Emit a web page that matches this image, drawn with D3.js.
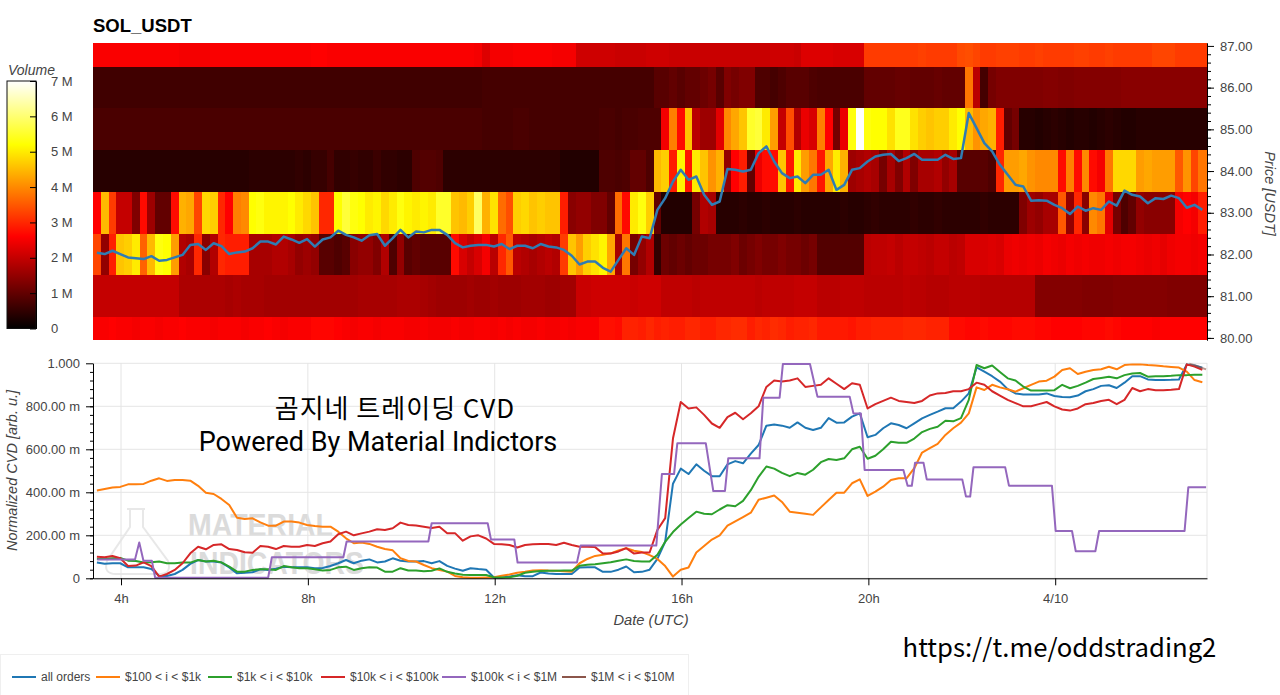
<!DOCTYPE html>
<html>
<head>
<meta charset="utf-8">
<script src="https://cdn.jsdelivr.net/npm/d3@7"></script>
<style>
  body { margin: 0; background: #fff; }
  text { font-family: "Liberation Sans", sans-serif; fill: #444; }
</style>
</head>
<body>
<div id="chart"></div>
<script>
// volume per price bin, in millions, one value per 10 minute column
var heat80 = [
  2.55,2.55,2.6,2.55,2.55,2.5,2.55,2.55,2.5,2.55,
  2.55,2.6,2.55,2.55,2.55,2.5,2.55,2.55,2.55,2.5,
  2.55,2.55,2.6,2.55,2.5,2.55,2.55,2.55,2.65,2.65,
  2.65,2.6,2.55,2.5,2.55,2.55,2.5,2.55,2.55,2.55,
  2.5,2.5,2.55,2.5,2.5,2.5,2.55,2.5,2.5,2.55,
  2.55,2.5,2.55,2.5,2.55,2.5,2.5,2.55,2.5,2.5,
  2.55,2.5,2.55,2.55,2.55,2.75,2.75,2.7,2.95,2.95,
  2.9,3.0,2.9,2.95,2.9,2.9,3.0,3.0,2.9,2.9,
  3.0,3.0,3.05,3.05,2.9,3.0,2.95,3.05,3.0,2.9,
  2.95,2.95,3.0,2.85,2.85,2.85,2.85,2.8,2.9,2.9,
  2.95,2.95,2.95,2.95,3.0,3.0,3.0,2.95,2.95,2.95,
  2.7,2.7,2.65,2.65,2.7,2.65,2.65,2.65,2.7,2.7,
  2.7,2.65,2.65,2.6,2.6,2.6,2.6,2.65,2.65,2.65,
  2.7,2.65,2.6,2.6,2.6,2.6,2.55,2.6,2.6,2.6,
  2.6,2.6,2.6
];
var heat81 = [
  2.0,2.0,2.0,2.0,2.0,2.0,2.0,2.0,2.0,2.0,
  2.0,1.75,1.75,1.75,1.75,1.75,1.75,1.7,1.75,1.7,
  1.7,1.7,1.65,1.65,1.65,1.65,1.65,1.65,1.65,1.65,
  1.65,1.65,1.65,1.65,1.7,1.7,1.7,1.7,1.7,1.75,
  1.75,1.75,1.7,1.65,1.6,1.6,1.6,1.6,1.65,1.6,
  1.6,1.65,1.6,1.6,1.6,1.65,1.65,1.65,1.6,1.6,
  1.65,1.65,2.05,2.05,2.1,2.1,2.1,2.1,2.1,2.05,
  2.1,2.1,2.1,1.95,1.95,1.95,1.95,1.9,1.95,1.95,
  1.95,1.95,1.95,1.95,1.95,1.9,1.95,1.95,1.95,1.95,
  2.0,2.0,2.0,1.9,1.9,1.9,1.95,1.95,1.95,1.9,
  1.9,1.9,1.9,1.9,1.95,1.9,1.9,1.85,1.85,1.85,
  1.9,1.9,1.9,1.9,1.85,1.85,1.85,1.85,1.85,1.85,
  1.85,1.35,1.35,1.35,1.35,1.35,1.35,1.3,1.3,1.3,
  1.3,1.35,1.35,1.35,1.35,1.35,1.35,1.35,1.3,1.3,
  1.3,1.3,1.3
];
var heat82 = [
  3.3,1.5,2.9,4.6,4.7,5.0,3.6,4.5,5.3,5.2,
  4.2,1.8,1.7,3.0,1.4,1.8,3.0,2.9,2.9,2.9,
  1.7,1.7,1.7,1.8,1.8,1.7,1.5,1.6,1.5,0.9,
  0.9,0.8,0.9,1.4,1.5,1.5,1.3,1.8,0.8,1.5,
  0.9,1.0,0.9,0.9,0.9,0.9,2.7,2.2,2.0,2.2,
  2.5,1.9,3.0,3.5,1.9,1.8,1.7,1.8,1.9,1.8,
  3.2,4.6,4.2,4.7,4.9,5.1,4.3,1.7,3.8,1.2,
  1.5,1.8,0.5,1.1,1.0,1.1,1.0,1.1,1.1,1.2,
  1.2,1.2,1.3,1.1,1.2,1.3,1.2,1.2,1.3,1.2,
  1.2,1.1,1.2,0.85,0.85,0.85,0.85,0.85,0.85,1.9,
  1.95,1.95,2.0,1.9,2.0,2.0,1.95,1.9,2.0,2.0,
  1.9,1.95,2.2,2.2,2.2,2.25,2.2,2.4,2.45,2.4,
  2.45,2.4,2.5,2.45,2.4,2.5,2.45,2.5,2.45,2.45,
  2.5,2.45,2.5,2.5,2.45,2.4,2.45,2.35,2.45,2.5,
  2.5,2.45,2.5
];
var heat83 = [
  2.6,4.5,3.2,2.0,2.0,1.3,2.7,1.6,1.0,1.0,
  2.7,4.4,4.3,3.3,4.8,4.7,3.0,2.6,3.9,4.0,
  5.2,5.3,5.1,5.1,5.1,5.2,5.0,4.8,4.6,3.0,
  3.0,5.2,5.6,5.3,5.2,5.0,5.1,4.8,5.0,5.3,
  5.1,5.0,5.1,5.0,5.5,5.5,4.6,4.5,4.7,5.9,
  4.4,4.9,3.7,3.4,4.7,4.8,4.6,4.7,4.6,4.6,
  2.9,1.4,1.5,1.5,1.3,1.3,1.0,3.7,2.7,5.0,
  5.3,4.7,1.0,0.35,0.35,0.35,0.35,1.2,1.8,1.7,
  0.4,0.4,0.4,0.45,0.4,0.4,0.45,0.4,0.4,0.4,
  0.45,0.4,0.4,0.4,0.4,0.4,0.45,0.4,0.4,0.45,
  0.5,0.45,0.45,0.45,0.45,0.5,0.45,0.45,0.5,0.45,
  0.45,0.45,0.45,0.45,0.5,0.45,0.45,0.45,0.45,1.3,
  1.6,1.5,1.7,1.7,3.5,1.5,3.0,1.4,4.0,3.8,
  2.3,1.2,0.8,1.0,1.5,1.4,1.4,1.4,1.4,2.5,
  2.6,2.5,2.9
];
var heat84 = [
  0.4,0.4,0.4,0.4,0.4,0.4,0.4,0.4,0.4,0.4,
  0.4,0.4,0.4,0.4,0.4,0.4,0.4,0.4,0.4,0.4,
  0.45,0.45,0.45,0.45,0.45,0.45,0.5,0.45,0.55,0.55,
  0.7,0.5,0.5,0.55,0.5,0.5,0.6,0.5,0.5,0.45,
  0.45,0.8,0.85,0.85,0.8,0.45,0.45,0.45,0.45,0.45,
  0.45,0.45,0.45,0.45,0.45,0.45,0.45,0.45,0.45,0.45,
  0.35,0.35,0.35,0.35,0.35,0.8,0.8,0.75,0.8,1.0,
  1.0,0.8,4.5,4.7,2.9,5.1,2.8,5.0,4.6,4.1,
  4.4,1.5,2.6,2.9,1.0,2.4,2.7,2.7,4.6,2.8,
  5.0,4.2,3.8,2.8,4.3,5.0,4.4,1.6,1.7,1.8,
  1.7,1.2,1.7,1.3,1.8,1.3,1.7,1.7,1.8,1.5,
  1.7,0.9,0.9,0.9,0.9,0.8,3.0,4.2,4.2,4.3,
  4.1,4.0,4.0,4.0,2.7,3.9,2.7,4.0,2.7,2.5,
  3.8,4.8,4.8,4.8,4.2,4.3,4.2,4.2,4.2,3.5,
  4.1,3.3,3.8
];
var heat85 = [
  0.75,0.75,0.75,0.75,0.75,0.75,0.75,0.75,0.75,0.75,
  0.75,0.75,0.75,0.75,0.75,0.75,0.75,0.75,0.75,0.75,
  0.75,0.75,0.75,0.75,0.75,0.75,0.75,0.75,0.75,0.75,
  0.75,0.75,0.75,0.75,0.75,0.75,0.75,0.75,0.75,0.75,
  0.75,0.75,0.75,0.75,0.75,0.75,0.75,0.75,0.75,0.75,
  0.7,0.7,0.7,0.7,0.75,0.75,0.7,0.7,0.7,0.7,
  0.7,0.7,0.7,0.7,0.7,0.75,0.75,0.7,0.75,0.75,
  0.8,0.8,0.8,2.5,3.9,2.7,4.6,1.9,1.6,1.6,
  2.3,4.0,4.3,4.6,5.5,5.6,5.0,4.2,2.0,3.4,
  1.8,2.4,2.2,3.9,2.6,1.2,2.4,5.3,7.0,5.3,
  5.2,5.2,4.9,5.4,5.4,4.9,4.7,4.6,4.7,4.7,
  5.0,5.2,4.5,4.1,4.3,4.4,2.9,1.0,1.2,0.4,
  0.4,0.35,0.4,0.45,0.4,0.35,0.4,0.4,0.35,0.4,
  0.45,0.4,0.35,0.35,0.4,0.4,0.4,0.4,0.4,0.4,
  0.4,0.4,0.4
];
var heat86 = [
  0.65,0.65,0.65,0.65,0.65,0.65,0.65,0.65,0.65,0.65,
  0.65,0.65,0.65,0.65,0.65,0.65,0.65,0.65,0.65,0.65,
  0.65,0.65,0.65,0.65,0.65,0.65,0.65,0.65,0.65,0.65,
  0.65,0.65,0.65,0.65,0.65,0.65,0.65,0.65,0.65,0.65,
  0.65,0.65,0.65,0.65,0.65,0.65,0.65,0.65,0.65,0.65,
  0.7,0.7,0.7,0.7,0.7,0.7,0.7,0.7,0.7,0.7,
  0.7,0.7,0.7,0.7,0.7,0.7,0.7,0.7,0.7,0.7,
  0.7,0.7,0.9,0.9,1.0,0.9,1.0,1.0,1.1,1.2,
  0.9,1.3,1.2,1.3,1.3,0.8,0.8,0.7,0.8,0.9,
  0.9,0.9,0.8,0.75,0.75,0.75,0.75,0.75,0.75,1.0,
  1.0,1.0,1.0,1.05,1.05,1.0,1.0,1.0,1.05,1.0,
  1.0,1.0,3.8,1.9,0.7,1.2,1.3,1.3,1.3,1.3,
  1.3,1.3,1.35,1.35,1.3,1.3,1.35,1.35,1.35,1.35,
  1.35,1.35,1.4,1.4,1.4,1.4,1.4,1.4,1.4,1.4,
  1.4,1.4,1.4
];
var heat87 = [
  2.55,2.55,2.55,2.55,2.55,2.55,2.55,2.55,2.55,2.55,
  2.55,2.5,2.5,2.5,2.5,2.55,2.55,2.55,2.55,2.55,
  2.55,2.55,2.55,2.55,2.55,2.55,2.55,2.55,2.6,2.6,
  2.55,2.55,2.55,2.55,2.55,2.55,2.55,2.55,2.55,2.55,
  2.55,2.55,2.55,2.55,2.55,2.55,2.55,2.55,2.55,2.5,
  2.25,2.5,2.5,2.5,2.55,2.55,2.55,2.55,2.55,2.5,
  2.5,2.5,2.1,2.1,2.1,2.1,2.1,2.05,2.05,2.05,
  2.05,2.1,2.1,2.1,2.05,2.05,2.05,2.05,2.05,2.05,
  2.05,2.05,2.05,2.05,2.05,2.05,2.05,2.1,2.1,2.1,
  2.05,2.25,2.25,2.25,2.25,2.2,2.2,2.2,2.2,3.2,
  3.2,3.2,3.2,3.2,3.2,3.2,3.25,3.2,3.2,3.2,
  3.2,3.35,3.4,3.3,3.2,3.2,3.25,3.25,3.25,3.2,
  3.2,3.25,3.2,3.2,3.2,3.2,3.25,3.25,3.2,3.2,
  3.25,3.2,3.2,3.2,3.2,3.2,3.3,3.3,3.3,3.2,
  3.2,3.2,3.2
];
var priceBins = [80, 81, 82, 83, 84, 85, 86, 87];

// mid price per 10 minute column
var priceLine = [
  82.04,82.01,82.09,82.01,81.93,81.91,81.89,81.96,81.85,81.87,
  81.93,81.99,82.23,82.25,82.11,82.27,82.2,82.01,82.05,82.07,
  82.15,82.31,82.31,82.24,82.43,82.36,82.28,82.37,82.19,82.36,
  82.41,82.57,82.47,82.41,82.33,82.46,82.49,82.21,82.39,82.59,
  82.41,82.55,82.53,82.59,82.59,82.47,82.27,82.17,82.21,82.23,
  82.23,82.19,82.25,82.13,82.21,82.21,82.15,82.25,82.19,82.17,
  82.11,81.97,81.76,81.83,81.83,81.68,81.59,81.87,82.15,81.99,
  82.43,82.39,83.07,83.35,83.75,84.03,83.79,83.87,83.43,83.19,
  83.27,84.05,84.03,83.99,84.03,84.43,84.59,84.23,83.95,83.83,
  83.87,83.71,83.91,83.91,84.03,83.55,83.67,84.03,84.07,84.23,
  84.35,84.39,84.41,84.24,84.31,84.41,84.27,84.27,84.27,84.39,
  84.29,84.31,85.39,85.03,84.67,84.47,84.15,83.91,83.67,83.63,
  83.29,83.3,83.29,83.19,83.11,82.97,83.15,83.05,83.11,83.07,
  83.27,83.17,83.53,83.43,83.39,83.23,83.35,83.33,83.41,83.35,
  83.12,83.19,83.07
];

// normalized cvd per order size, same columns as the price
var cvdAll = [
  .074,.068,.07,.07,.051,.051,.051,.043,.011,.011,
  .02,.039,.067,.085,.078,.078,.073,.051,.023,.026,
  .028,.042,.039,.045,.054,.051,.051,.051,.047,.048,
  .057,.07,.085,.07,.082,.088,.074,.078,.093,.082,
  .078,.078,.08,.07,.08,.058,.045,.035,.047,.043,
  .04,.004,.004,.008,.014,.009,.01,.027,.022,.02,
  .02,.02,.05,.051,.051,.03,.03,.04,.055,.028,
  .03,.04,.09,.17,.44,.51,.485,.53,.5,.475,
  .475,.53,.545,.535,.58,.62,.71,.715,.71,.7,
  .725,.7,.69,.7,.745,.724,.725,.752,.767,.656,
  .667,.698,.721,.713,.698,.721,.744,.76,.775,.791,
  .791,.822,.86,.981,.961,.94,.915,.88,.86,.855,
  .855,.855,.86,.848,.843,.842,.85,.87,.88,.895,
  .898,.885,.91,.94,.94,.925,.922,.922,.923,.925,
  .995,.99,.98
];
var cvd100 = [
  .408,.415,.422,.425,.437,.437,.439,.454,.465,.453,
  .457,.457,.454,.43,.398,.392,.369,.341,.282,.276,
  .279,.26,.245,.245,.264,.264,.259,.248,.243,.24,
  .24,.217,.186,.163,.166,.16,.147,.136,.13,.093,
  .081,.078,.062,.047,.039,.031,.011,.005,.002,.003,
  .004,.005,.012,.018,.026,.03,.036,.038,.036,.035,
  .033,.031,.07,.09,.104,.11,.116,.13,.14,.128,
  .122,.108,.09,.057,.008,.04,.05,.12,.15,.18,
  .2,.245,.265,.285,.305,.365,.375,.385,.355,.31,
  .305,.3,.295,.33,.364,.398,.398,.442,.46,.383,
  .403,.426,.457,.465,.465,.512,.585,.605,.625,.667,
  .698,.724,.767,.888,.876,.9,.888,.879,.868,.884,
  .9,.915,.919,.938,.969,.977,.95,.961,.969,.972,
  .984,.972,.992,.995,.995,.992,.99,.986,.983,.98,
  .961,.922,.912
];
var cvd1k = [
  .09,.09,.093,.095,.082,.08,.073,.075,.078,.07,
  .07,.073,.073,.085,.078,.082,.074,.054,.031,.031,
  .039,.042,.042,.039,.057,.051,.047,.047,.042,.036,
  .039,.051,.054,.039,.047,.051,.05,.031,.031,.047,
  .036,.036,.033,.035,.046,.03,.022,.016,.015,.015,
  .015,.005,.004,.005,.012,.026,.03,.034,.035,.035,
  .036,.036,.058,.063,.065,.07,.075,.082,.088,.08,
  .078,.078,.11,.17,.215,.25,.28,.31,.3,.298,
  .32,.34,.335,.36,.41,.472,.52,.51,.49,.475,
  .49,.482,.505,.54,.555,.55,.558,.6,.612,.556,
  .57,.6,.635,.63,.63,.65,.68,.695,.705,.733,
  .73,.745,.83,.992,.977,.99,.96,.93,.92,.892,
  .873,.873,.873,.875,.9,.884,.895,.91,.927,.932,
  .937,.93,.945,.953,.955,.938,.94,.94,.942,.945,
  .945,.947,.947
];
var cvd10k = [
  .1,.098,.104,.093,.057,.059,.074,.057,.008,.02,
  .039,.07,.116,.147,.135,.155,.158,.136,.132,.121,
  .119,.15,.147,.136,.15,.147,.147,.155,.15,.163,
  .171,.205,.217,.2,.209,.217,.228,.225,.233,.259,
  .248,.246,.24,.234,.24,.21,.21,.175,.195,.2,
  .185,.16,.158,.155,.143,.155,.158,.16,.16,.155,
  .165,.155,.147,.147,.145,.115,.115,.125,.14,.115,
  .12,.12,.225,.28,.65,.82,.79,.795,.76,.72,
  .7,.75,.77,.74,.768,.8,.89,.92,.915,.92,
  .93,.89,.895,.9,.93,.905,.88,.907,.9,.79,
  .81,.825,.84,.825,.82,.815,.825,.85,.86,.862,
  .87,.87,.88,.91,.9,.87,.85,.83,.815,.8,
  .8,.81,.82,.8,.785,.78,.79,.81,.815,.825,
  .83,.81,.83,.885,.87,.88,.875,.875,.877,.88,
  .995,.985,.97
];
// the $100k line moves in steps so it keeps its own times (hours)
var cvd100kTimes = [
  3.49,4.30,4.39,4.48,4.66,4.73,7.15,7.23,8.76,8.83,10.58,10.65,11.85,11.92,
  12.42,12.49,13.76,13.84,15.46,15.58,15.84,15.91,16.52,16.68,16.93,17.0,
  17.67,17.75,18.1,18.17,18.75,18.91,19.6,19.68,19.84,19.92,20.75,20.84,
  20.93,21.0,21.18,21.25,22.01,22.09,22.18,22.25,22.93,23.01,23.93,24.01,
  24.36,24.44,24.86,24.94,26.77,26.85,27.23
];
var cvd100k = [
  .088,.088,.167,.082,.082,.003,.003,.098,.098,.171,.171,.256,.256,.181,
  .181,.073,.073,.152,.152,.485,.485,.628,.628,.406,.406,.558,
  .558,.84,.84,.997,.997,.845,.845,.767,.767,.504,.504,.43,
  .43,.538,.538,.46,.46,.38,.38,.516,.516,.431,.431,.22,
  .22,.126,.126,.22,.22,.423,.423
];
// only seen for a moment at the right edge
var cvd1mTimes = [26.87, 27.0, 27.23];
var cvd1m = [.998, .99, .972];

var seriesNames = ["all orders", "$100 < i < $1k", "$1k < i < $10k", "$10k < i < $100k", "$100k < i < $1M", "$1M < i < $10M"];
var seriesColors = ["#1f77b4", "#ff7f0e", "#2ca02c", "#d62728", "#9467bd", "#8c564b"];

var timeTicks = [4, 8, 12, 16, 20, 24];
var timeLabels = ["4h", "8h", "12h", "16h", "20h", "4/10"];
var priceTicks = [80, 81, 82, 83, 84, 85, 86, 87];
var cvdTicks = [0, .2, .4, .6, .8, 1];
var cvdLabels = ["0", "200.00 m", "400.00 m", "600.00 m", "800.00 m", "1.000"];
var volumeTicks = [0, 1, 2, 3, 4, 5, 6, 7];

var firstHour = 3.4;
var columnHours = 1 / 6;

var svg = d3.select("#chart").append("svg")
  .attr("width", 1280)
  .attr("height", 695)
  .style("display", "block");

// shared time scale
var x = d3.scaleLinear().domain([firstHour, 27.25]).range([93, 1207]);
var yPrice = d3.scaleLinear().domain([79.95, 87.07]).range([340, 43]);
var yCvd = d3.scaleLinear().domain([0, 1]).range([578.3, 363.3]);
var yVolume = d3.scaleLinear().domain([0, 7]).range([328.5, 81]);

// black, red, yellow, white like the hot palette
var hot = d3.scaleLinear()
  .domain([0, 2.6, 5.2, 7])
  .range(["#000000", "#ff0000", "#ffff00", "#ffffff"]);

var defs = svg.append("defs");
defs.append("clipPath").attr("id", "heatClip").append("rect")
  .attr("x", 93).attr("y", 43).attr("width", 1114).attr("height", 297);
defs.append("clipPath").attr("id", "cvdClip").append("rect")
  .attr("x", 93).attr("y", 362).attr("width", 1114).attr("height", 217);

svg.append("text")
  .attr("x", 93).attr("y", 32)
  .style("font-size", "18.5px").style("font-weight", "bold").style("fill", "#000")
  .text("SOL_USDT");

// heatmap
var heatRows = [heat80, heat81, heat82, heat83, heat84, heat85, heat86, heat87];
var heatGroup = svg.append("g").attr("clip-path", "url(#heatClip)");
heatRows.forEach(function(row, r) {
  heatGroup.selectAll(".c" + r)
    .data(row)
    .enter()
    .append("rect")
    .attr("x", (d, i) => x(firstHour + i * columnHours))
    .attr("width", x(firstHour + columnHours) - x(firstHour) + 0.4)
    .attr("y", yPrice(priceBins[r] + 0.5))
    .attr("height", yPrice(priceBins[r] - 0.5) - yPrice(priceBins[r] + 0.5))
    .attr("fill", d => hot(d))
    .attr("shape-rendering", "crispEdges");
});

var columnTime = i => firstHour + (i + 0.5) * columnHours;

heatGroup.append("path")
  .datum(priceLine)
  .attr("fill", "none")
  .attr("stroke", "#2f7cb3")
  .attr("stroke-width", 2.5)
  .attr("stroke-linejoin", "round")
  .attr("d", d3.line().x((d, i) => x(columnTime(i))).y(d => yPrice(d)));

// price axis on the right
svg.append("g")
  .attr("transform", "translate(1207,0)")
  .call(d3.axisRight(yPrice).tickValues(priceTicks).tickFormat(d3.format(".2f")).tickSize(7).tickPadding(6).tickSizeOuter(0));
svg.append("g")
  .attr("transform", "translate(1207,0)")
  .call(d3.axisRight(yPrice).tickValues(d3.range(80, 87, 0.2)).tickFormat("").tickSize(4).tickSizeOuter(0));

svg.append("text")
  .attr("transform", "translate(1265,193.5) rotate(90)")
  .attr("text-anchor", "middle")
  .style("font-size", "14.5px").style("font-style", "italic")
  .text("Price [USDT]");

// colour bar
svg.append("text")
  .attr("x", 8).attr("y", 75)
  .style("font-size", "14px").style("font-style", "italic")
  .text("Volume");

var barGradient = defs.append("linearGradient")
  .attr("id", "barGradient")
  .attr("x1", 0).attr("y1", 1).attr("x2", 0).attr("y2", 0);
hot.domain().forEach(function(v) {
  barGradient.append("stop").attr("offset", v / 7).attr("stop-color", hot(v));
});
svg.append("rect")
  .attr("x", 7).attr("y", 81).attr("width", 29).attr("height", 247.5)
  .attr("fill", "url(#barGradient)")
  .attr("stroke", "#111");
svg.append("g")
  .attr("transform", "translate(36,0)")
  .call(d3.axisRight(yVolume).tickValues(volumeTicks)
    .tickFormat(d => d == 0 ? "0" : d + " M").tickSize(-6).tickPadding(15).tickSizeOuter(0));

// cvd panel, watermark sits under the grid
var mark = svg.append("g").attr("opacity", 0.9);
mark.append("path")
  .attr("d", "M127,509 L145,509 M130,509 L130,527 L107,561 Q103,574 116,574 L160,574 Q172,574 168,561 L143,527 L143,509")
  .attr("fill", "none")
  .attr("stroke", "#e6e6e6")
  .attr("stroke-width", 2);
mark.append("text")
  .attr("x", 188).attr("y", 536)
  .attr("textLength", 145)
  .attr("lengthAdjust", "spacingAndGlyphs")
  .style("font-size", "32px").style("font-weight", "bold").style("fill", "#d8d8d8")
  .text("MATERIAL");
mark.append("text")
  .attr("x", 190).attr("y", 574)
  .attr("textLength", 174)
  .attr("lengthAdjust", "spacingAndGlyphs")
  .style("font-size", "32px").style("font-weight", "bold").style("fill", "#d8d8d8")
  .text("INDICATORS");

svg.append("g").selectAll("line")
  .data(cvdTicks)
  .enter()
  .append("line")
  .attr("x1", 93).attr("x2", 1207)
  .attr("y1", d => yCvd(d)).attr("y2", d => yCvd(d))
  .attr("stroke", "#e5e5e5");
svg.append("g").selectAll("line")
  .data(timeTicks)
  .enter()
  .append("line")
  .attr("x1", d => x(d)).attr("x2", d => x(d))
  .attr("y1", 363).attr("y2", 578)
  .attr("stroke", "#e5e5e5");
svg.append("line")
  .attr("x1", 1207).attr("x2", 1207).attr("y1", 363).attr("y2", 578)
  .attr("stroke", "#e5e5e5");

var gridLine = d3.line().x((d, i) => x(columnTime(i))).y(d => yCvd(d));
var cvdGroup = svg.append("g")
  .attr("clip-path", "url(#cvdClip)")
  .attr("fill", "none")
  .attr("stroke-width", 2)
  .attr("stroke-linejoin", "round");

[cvdAll, cvd100, cvd1k, cvd10k].forEach(function(values, s) {
  cvdGroup.append("path")
    .datum(values)
    .attr("stroke", seriesColors[s])
    .attr("d", gridLine);
});
cvdGroup.append("path")
  .datum(cvd100k)
  .attr("stroke", seriesColors[4])
  .attr("d", d3.line().x((d, i) => x(cvd100kTimes[i])).y(d => yCvd(d)));
cvdGroup.append("path")
  .datum(cvd1m)
  .attr("stroke", seriesColors[5])
  .attr("stroke-opacity", 0.6)
  .attr("d", d3.line().x((d, i) => x(cvd1mTimes[i])).y(d => yCvd(d)));

// cvd axes
svg.append("g")
  .attr("transform", "translate(93,0)")
  .call(d3.axisLeft(yCvd).tickValues(cvdTicks).tickFormat((d, i) => cvdLabels[i]).tickSize(7).tickPadding(6).tickSizeOuter(0));
svg.append("g")
  .attr("transform", "translate(93,0)")
  .call(d3.axisLeft(yCvd).tickValues(d3.range(0, 1, 0.04)).tickFormat("").tickSize(3).tickSizeOuter(0));
svg.append("g")
  .attr("transform", "translate(0,578.3)")
  .call(d3.axisBottom(x).tickValues(timeTicks).tickFormat((d, i) => timeLabels[i]).tickSize(7).tickPadding(8).tickSizeOuter(0));

svg.selectAll(".tick text").style("font-size", "13px").style("fill", "#444");

svg.append("text")
  .attr("transform", "translate(17,470.5) rotate(-90)")
  .attr("text-anchor", "middle")
  .style("font-size", "14.5px").style("font-style", "italic")
  .text("Normalized CVD [arb. u.]");
svg.append("text")
  .attr("x", 651).attr("y", 625)
  .attr("text-anchor", "middle")
  .style("font-size", "14.7px").style("font-style", "italic")
  .text("Date (UTC)");

// legend
var legendLineX = [12, 96, 208, 321, 442, 562];
svg.append("rect")
  .attr("x", 0.5).attr("y", 654.5).attr("width", 688).attr("height", 41)
  .attr("fill", "#fff")
  .attr("stroke", "#efefef");
seriesNames.forEach(function(name, i) {
  svg.append("line")
    .attr("x1", legendLineX[i]).attr("x2", legendLineX[i] + 24)
    .attr("y1", 677).attr("y2", 677)
    .attr("stroke", seriesColors[i])
    .attr("stroke-width", 2);
  svg.append("text")
    .attr("x", legendLineX[i] + 29).attr("y", 681)
    .style("font-size", "12px")
    .text(name);
});

// text pasted on top of the chart
var notes = [
  { text: "곰지네 트레이딩 CVD", x: 395, y: 418, font: '"Noto Sans CJK KR"', size: 26, spacing: 1 },
  { text: "Powered By Material Indictors", x: 378, y: 450.5, font: "Roboto", size: 27, spacing: 0 },
  { text: "https://t.me/oddstrading2", x: 1059.5, y: 657, font: '"Noto Sans CJK KR"', size: 25.7, spacing: 0 }
];
svg.selectAll(".note")
  .data(notes)
  .enter()
  .append("text")
  .attr("class", "note")
  .attr("x", d => d.x)
  .attr("y", d => d.y)
  .attr("text-anchor", "middle")
  .style("font-family", d => d.font + ", sans-serif")
  .style("font-size", d => d.size + "px")
  .style("letter-spacing", d => d.spacing + "px")
  .style("fill", "#000")
  .text(d => d.text);
</script>
</body>
</html>
